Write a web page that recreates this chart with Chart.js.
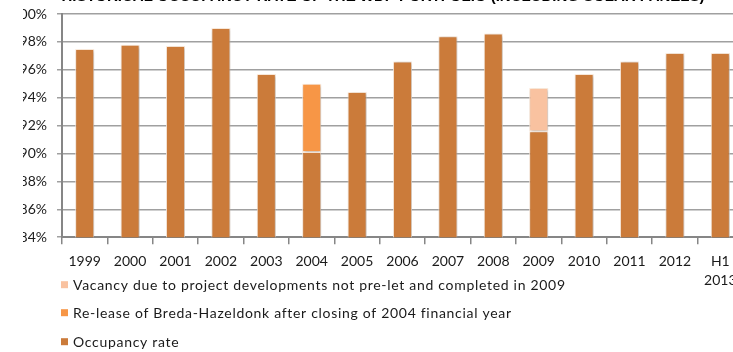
<!DOCTYPE html>
<html>
<head>
<meta charset="utf-8">
<script src="https://cdn.jsdelivr.net/npm/chart.js@4/dist/chart.umd.min.js"></script>
<style>
  html, body { margin: 0; padding: 0; background: #fff; overflow: hidden; }
  body { width: 733px; height: 352px; position: relative; }
  #wrap { position: absolute; left: 0; top: -20px; width: 752px; height: 372px; }
</style>
</head>
<body>
<div id="wrap"><canvas id="c"></canvas></div>
<script>
// Years on the x axis (last one is the half-year figure)
const categories = ['1999','2000','2001','2002','2003','2004','2005','2006','2007','2008','2009','2010','2011','2012',['H1','2013']];

// Occupancy rate per year (%)
const occupancyRate = [97.5, 97.8, 97.7, 99.0, 95.7, 90.1, 94.4, 96.6, 98.4, 98.6, 91.6, 95.7, 96.6, 97.2, 97.2];
// Extra occupancy from the Breda-Hazeldonk re-lease (2004 only)
const releaseBreda = [null, null, null, null, null, 4.9, null, null, null, null, null, null, null, null, null];
// Vacancy from project developments completed in 2009 (2009 only)
const vacancy2009 = [null, null, null, null, null, null, null, null, null, null, 3.1, null, null, null, null];

// Y axis range and step (%)
const yMin = 84, yMax = 100, yStep = 2;

const titleText = 'HISTORICAL OCCUPANCY RATE OF THE WDP PORTFOLIO (INCLUDING SOLAR PANELS)';
const labelOccupancy = 'Occupancy rate';
const labelRelease = 'Re-lease of Breda-Hazeldonk after closing of 2004 financial year';
const labelVacancy = 'Vacancy due to project developments not pre-let and completed in 2009';

const FONT = 'Lato, "Open Sans", sans-serif';

// Soft drop shadow behind the bars
const barShadow = {
  id: 'barShadow',
  beforeDatasetsDraw(chart) {
    const ctx = chart.ctx;
    ctx.save();
    ctx.shadowColor = 'rgba(0,0,0,0.32)';
    ctx.shadowBlur = 3;
    ctx.shadowOffsetX = 1;
    ctx.shadowOffsetY = 1;
  },
  afterDatasetsDraw(chart) {
    chart.ctx.restore();
  }
};

// Vertical legend list under the axis, last dataset first
const stackedLegend = {
  id: 'stackedLegend',
  afterDraw(chart) {
    const ctx = chart.ctx;
    const base = chart.chartArea.bottom;
    const rows = [48, 76, 105];
    const sets = chart.data.datasets.slice().reverse();
    ctx.save();
    ctx.font = '14px ' + FONT;
    ctx.letterSpacing = '0.7px';
    ctx.textBaseline = 'middle';
    ctx.textAlign = 'left';
    sets.forEach((ds, i) => {
      const y = base + rows[i];
      ctx.fillStyle = ds.backgroundColor;
      ctx.fillRect(chart.chartArea.left - 1, y - 4, 7, 7);
      ctx.fillStyle = '#1a1a1a';
      ctx.fillText(ds.label, chart.chartArea.left + 11, y);
    });
    ctx.letterSpacing = '0px';
    ctx.restore();
  }
};

new Chart(document.getElementById('c'), {
  type: 'bar',
  data: {
    labels: categories,
    datasets: [
      { label: labelOccupancy, data: occupancyRate, backgroundColor: '#CB7B3A', borderColor: 'rgba(255,236,220,0.9)', borderWidth: 1, borderSkipped: false },
      { label: labelRelease, data: releaseBreda, backgroundColor: '#F79646', borderColor: 'rgba(255,236,220,0.9)', borderWidth: 1, borderSkipped: false },
      { label: labelVacancy, data: vacancy2009, backgroundColor: '#F9C2A0', borderColor: 'rgba(255,236,220,0.9)', borderWidth: 1, borderSkipped: false }
    ]
  },
  options: {
    responsive: true,
    maintainAspectRatio: false,
    animation: false,
    events: [],
    categoryPercentage: 1,
    barPercentage: 0.42,
    layout: { padding: { left: 23, right: 9, top: 0, bottom: 54 } },
    plugins: {
      legend: { display: false },
      tooltip: { enabled: false },
      title: {
        display: true,
        text: titleText,
        color: '#000',
        font: { family: '"Liberation Sans", Arial, sans-serif', size: 15, weight: 'bold' },
        padding: { top: 8, bottom: 8 }
      }
    },
    scales: {
      x: {
        stacked: true,
        offset: true,
        border: { color: '#868686', width: 2 },
        grid: { drawOnChartArea: false, drawTicks: true, tickLength: 7, color: '#868686', lineWidth: 1.5, offset: true },
        ticks: { color: '#1a1a1a', font: { family: FONT, size: 14, lineHeight: 1.35 }, padding: 8, maxRotation: 0, autoSkip: false }
      },
      y: {
        stacked: true,
        min: yMin,
        max: yMax,
        afterFit: scale => { scale.width = 39; },
        border: { color: '#868686', width: 2 },
        grid: { color: '#a0a0a0', lineWidth: 1.5, tickLength: 5 },
        ticks: { stepSize: yStep, color: '#1a1a1a', font: { family: FONT, size: 14 }, padding: 10, callback: v => v + '%' }
      }
    }
  },
  plugins: [barShadow, stackedLegend]
});
</script>
</body>
</html>
